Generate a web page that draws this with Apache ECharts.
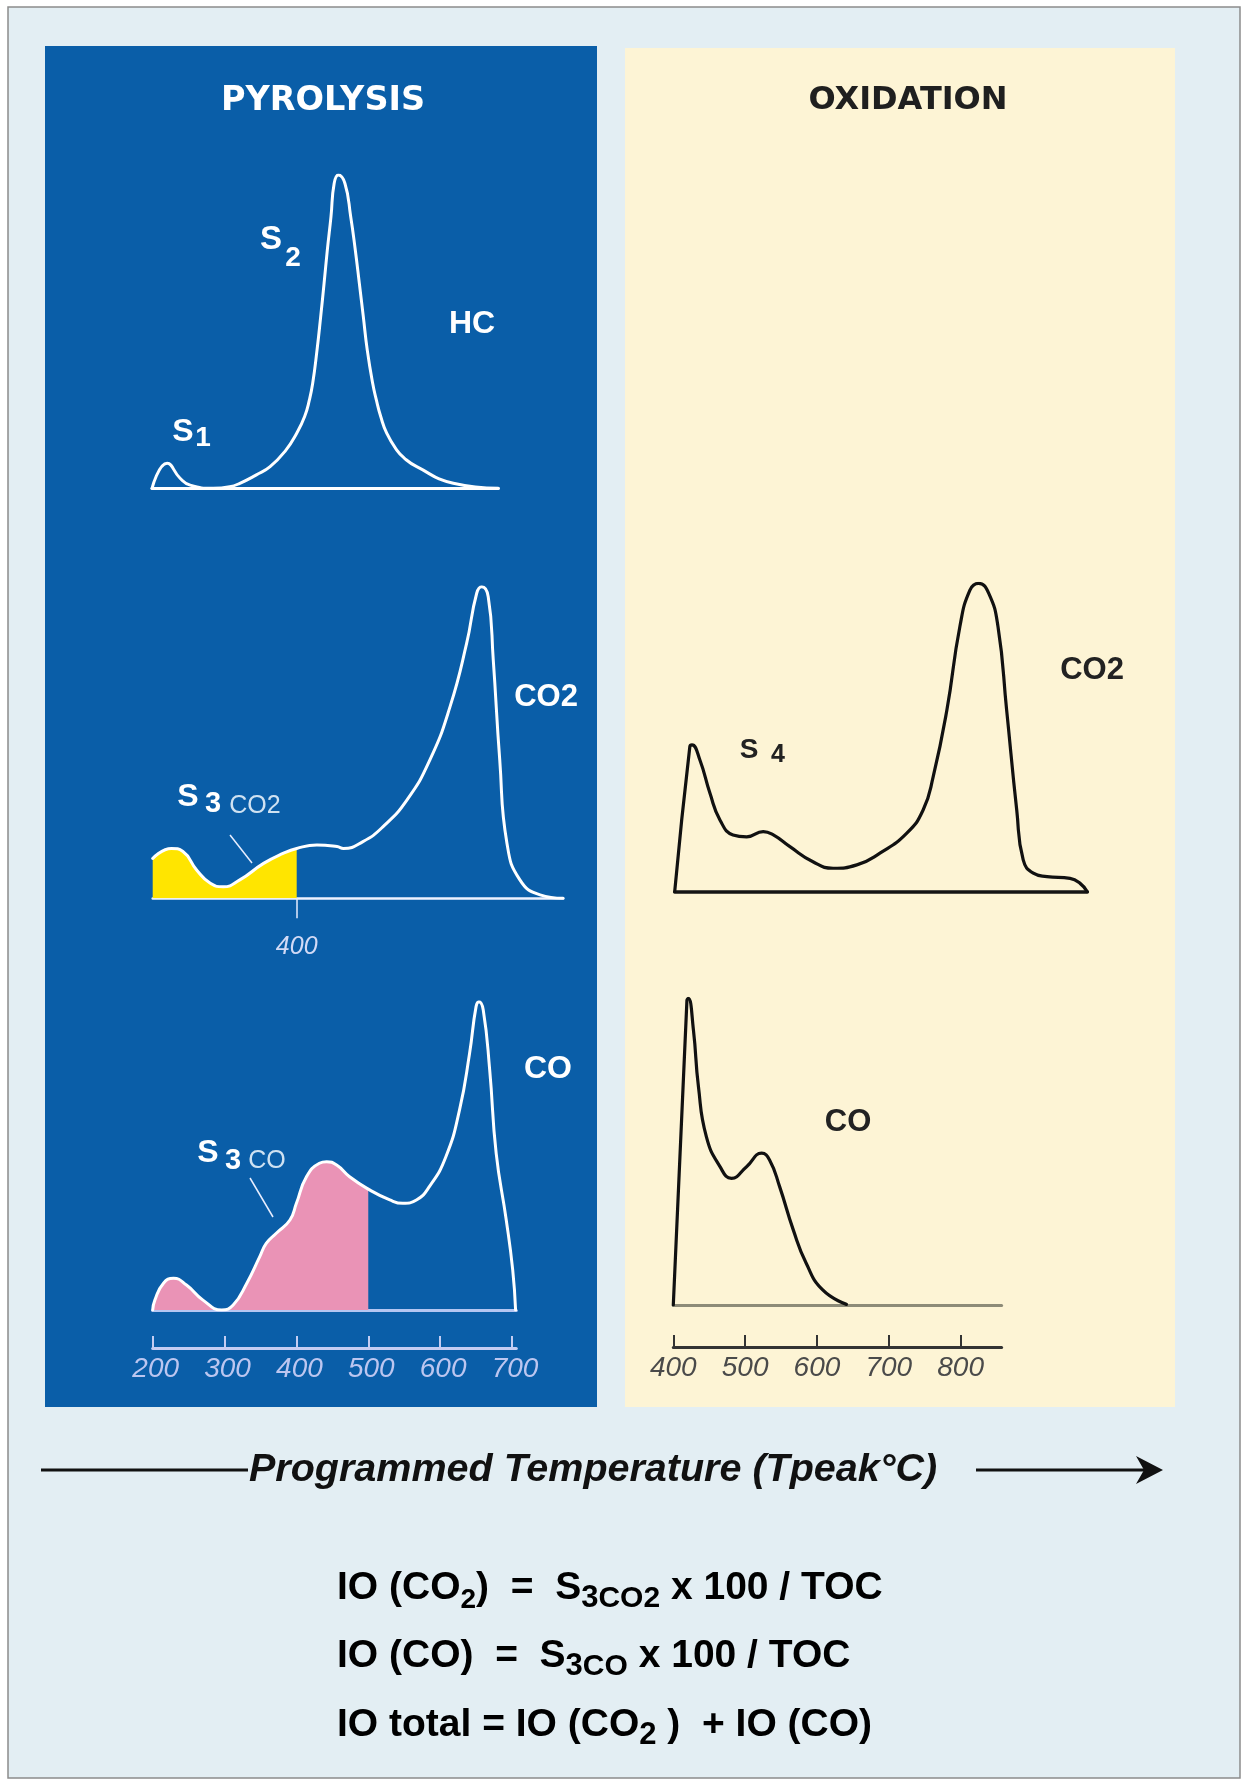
<!DOCTYPE html>
<html>
<head>
<meta charset="utf-8">
<title>Rock-Eval pyrolysis and oxidation</title>
<script src="https://cdn.jsdelivr.net/npm/echarts@6/dist/echarts.min.js"></script>
<style>
  html, body { margin: 0; padding: 0; background: #ffffff; }
  #chart { width: 1249px; height: 1783px; }
</style>
</head>
<body>
<div id="chart"></div>
<script>
// Temperature tick labels (°C)
const pyroTicks = [200, 300, 400, 500, 600, 700];
const oxiTicks = [400, 500, 600, 700, 800];
const s3co2Limit = 400;   // S3 CO2 integrated up to 400 °C
const s3coLimit = 500;    // S3 CO integrated up to 500 °C

// Pyrolysis signals: [temperature °C, relative intensity]
const hcPyro = [[199,0],[220,8],[238,3.2],[252,1],[284,0],[307,0.5],[321,1.6],[344,4.3],[363,6.9],[385,12.2],[400,17.6],[411,22.9],[417.6,28.2],[422.2,33.5],[428.2,44.1],[433.3,54.8],[438,65.4],[442.5,76],[447.6,86.7],[452,97.3],[457.8,100],[467,97.3],[475,86.7],[481.4,76],[487,65.4],[492.5,54.8],[498,44.1],[505.5,33.5],[510.6,28.2],[516.7,22.9],[525,17.6],[539,12.2],[550,9.5],[566.7,6.9],[617.5,1.6],[680,0]];
const co2Pyro = [[200,12.8],[226,16],[242,15],[261,9.1],[280,4.8],[298,3.7],[321,5.9],[354,11.2],[381,14.4],[400,16],[428,17.1],[456,16.6],[465,16],[492,18.2],[520,23],[553,31.5],[585,44.4],[613,61.5],[636,81.8],[650,97.9],[657,100],[666,96.8],[673,76.5],[682,44.4],[692,17.7],[710,5.9],[738,1.1],[770,0]];
const coPyro = [[200,0],[203,3.2],[215,8.7],[229,10.3],[247,8.1],[270,3.2],[296,0],[312,1.6],[331,8.7],[349,17.3],[358,21.6],[372,24.9],[391,29.2],[400,34.6],[414,43.2],[432,47.6],[442,48.1],[456,47],[474,43.2],[500,39.2],[530,35.7],[548,34.6],[567,35.7],[585,40],[608,49.7],[627,64.9],[641,83.3],[650,98.4],[654,100],[660,97.3],[669,77.8],[678,50.8],[692,29.2],[701,13],[705,0]];

// Oxidation signals
const co2Oxi = [[402,0],[423,47],[426,47.6],[437,42.7],[451,31.9],[465,23.2],[483,18.4],[502,17.8],[525,19.5],[539,18.4],[562,14.6],[594,9.7],[622,7.6],[655,8.7],[687,12.5],[724,18.9],[747,26.5],[761,37.3],[780,58.9],[798,85.9],[812,97.8],[824,100],[838,96.8],[851,85.9],[863,58.9],[877,26.5],[886,10.3],[900,6],[919,4.9],[951,4.3],[965,2.7],[975,0]];
const coOxi = [[400,0],[419,99.4],[421,100],[428,89.7],[435,71.2],[446,54.9],[465,45.1],[481,41.3],[502,45.1],[523,49.5],[534,47.3],[548,38.6],[567,24.5],[585,13.6],[608,4.9],[641,0.2]];

const FONT = '"Liberation Sans", Arial, sans-serif';
const WHITE = '#ffffff';
const LAVENDER = '#bcc6f0';
const INK = '#1d1d1d';
const SMOOTH = 0.5;

const chart = echarts.init(document.getElementById('chart'), null, { renderer: 'canvas' });

function hiddenY(i) {
  return { type: 'value', gridIndex: i, min: 0, max: 100, show: false };
}
function baseAxis(grid, min, max, color, width) {
  return {
    type: 'value', gridIndex: grid, min: min, max: max, position: 'bottom',
    axisLine: { show: true, onZero: false, lineStyle: { color: color, width: width } },
    axisTick: { show: false }, axisLabel: { show: false }, splitLine: { show: false }
  };
}
function scaleAxis(grid, min, max, offset, ticks, color, labelColor, shift) {
  return {
    type: 'value', gridIndex: grid, min: min, max: max, position: 'bottom', offset: offset,
    axisLine: { show: true, onZero: false, lineStyle: { color: color, width: 3 } },
    axisTick: { show: true, inside: true, length: 12, customValues: ticks, lineStyle: { color: color, width: 2 } },
    axisLabel: { show: true, customValues: ticks, margin: 7, color: labelColor, fontFamily: FONT,
                 fontStyle: 'italic', fontSize: 28, padding: [0, 0, 0, shift] },
    splitLine: { show: false }
  };
}
const yIndexOf = { 0: 0, 1: 1, 2: 2, 4: 3, 5: 4 };
function curve(xi, data, color, width) {
  return {
    type: 'line', xAxisIndex: xi, yAxisIndex: yIndexOf[xi], data: data,
    smooth: SMOOTH, showSymbol: false, symbol: 'none',
    lineStyle: { color: color, width: width, cap: 'round', join: 'round' }, z: 4
  };
}
function fill(xi, data, color) {
  return {
    type: 'line', xAxisIndex: xi, yAxisIndex: yIndexOf[xi], data: data,
    smooth: SMOOTH, showSymbol: false, symbol: 'none',
    lineStyle: { width: 0 }, areaStyle: { color: color, opacity: 1 }, z: 3
  };
}

const co2Area = co2Pyro.filter(p => p[0] <= s3co2Limit);
const coArea = coPyro.filter(p => p[0] <= s3coLimit);

function txt(x, y, s, size, color, weight, family, align) {
  return {
    type: 'text', z: 20,
    style: { x: x, y: y, text: s, fill: color, fontSize: size, fontWeight: weight || 'bold',
             fontFamily: family || FONT, textAlign: align || 'center', align: align || 'center',
             textVerticalAlign: 'middle', verticalAlign: 'middle' }
  };
}

const formulaRich = {
  m: { fontSize: 39, fontWeight: 'bold', fontFamily: FONT, color: INK, lineHeight: 52 },
  s: { fontSize: 28, fontWeight: 'bold', fontFamily: FONT, color: INK, lineHeight: 28, verticalAlign: 'bottom' },
  n: { fontSize: 31, fontWeight: 'bold', fontFamily: FONT, color: INK, lineHeight: 30, verticalAlign: 'bottom' },
  p: { fontSize: 30, fontWeight: 'bold', fontFamily: FONT, color: '#7a2c7c', lineHeight: 30, verticalAlign: 'bottom' },
  s2: { fontSize: 31, fontWeight: 'bold', fontFamily: FONT, color: INK, lineHeight: 24, verticalAlign: 'bottom' }
};
function formula(y, s) {
  return {
    type: 'text', z: 20,
    style: { x: 337, y: y, text: s, rich: formulaRich, textAlign: 'left', align: 'left',
             textVerticalAlign: 'middle', verticalAlign: 'middle' }
  };
}

const option = {
  animation: false,
  backgroundColor: '#ffffff',
  grid: [
    { left: 152, top: 175, width: 346.3, height: 313.3, outerBoundsMode: 'none' },
    { left: 152.7, top: 586.7, width: 410.4, height: 311.6, outerBoundsMode: 'none' },
    { left: 152.7, top: 1001.7, width: 363.6, height: 308.3, outerBoundsMode: 'none' },
    { left: 674.7, top: 583.3, width: 412.6, height: 308.4, outerBoundsMode: 'none' },
    { left: 673.3, top: 998.3, width: 328.3, height: 306.7, outerBoundsMode: 'none' }
  ],
  xAxis: [
    baseAxis(0, 199, 680, WHITE, 3),
    Object.assign(baseAxis(1, 200, 770, '#eef2ff', 2.5), {
      axisTick: { show: true, inside: false, length: 20, customValues: [s3co2Limit],
                  lineStyle: { color: '#e6ecff', width: 1.5 } },
      axisLabel: { show: true, customValues: [s3co2Limit], margin: 36, color: '#d2daf6',
                   fontFamily: FONT, fontStyle: 'italic', fontSize: 25 }
    }),
    baseAxis(2, 200, 706, '#b4c6f2', 3),
    scaleAxis(2, 200, 706, 38, pyroTicks, '#c4cdf3', LAVENDER, 6),
    baseAxis(3, 402, 975, '#151515', 3.5),
    baseAxis(4, 400, 857, '#8d8b78', 3),
    scaleAxis(4, 400, 857, 42, oxiTicks, '#333333', '#4a4a4a', 0)
  ],
  yAxis: [hiddenY(0), hiddenY(1), hiddenY(2), hiddenY(3), hiddenY(4)],
  series: [
    curve(0, hcPyro, WHITE, 3),
    fill(1, co2Area, '#ffe500'),
    curve(1, co2Pyro, WHITE, 3),
    fill(2, coArea, '#ea93b6'),
    curve(2, coPyro, WHITE, 3),
    curve(4, co2Oxi, '#111111', 3.2),
    curve(5, coOxi, '#111111', 3.2)
  ],
  graphic: [
    // page frame and panels
    { type: 'rect', z: -10, shape: { x: 8, y: 7, width: 1232, height: 1771 },
      style: { fill: '#e3eef3', stroke: '#8c8c8c', lineWidth: 1.5 } },
    { type: 'rect', z: -9, shape: { x: 45, y: 46, width: 552, height: 1361 }, style: { fill: '#0a5ea8' } },
    { type: 'rect', z: -9, shape: { x: 625, y: 48, width: 550, height: 1359 }, style: { fill: '#fdf4d5' } },

    // panel titles
    txt(323, 101, 'PYROLYSIS', 33.5, WHITE, 'bold', '"DejaVu Sans", sans-serif'),
    txt(908, 101, 'OXIDATION', 32, '#1f1f1f', 'bold', '"DejaVu Sans", sans-serif'),

    // pyrolysis peak labels
    txt(271, 240, 'S', 33, WHITE),
    txt(293, 258, '2', 28, WHITE),
    txt(472, 324, 'HC', 32, WHITE),
    txt(183, 432, 'S', 32, WHITE),
    txt(203, 438, '1', 28, WHITE),
    txt(546, 697, 'CO2', 31, WHITE),
    txt(188, 797, 'S', 32, WHITE),
    txt(213, 804, '3', 29, WHITE),
    txt(255, 806, 'CO2', 25, '#cfe2f2', 'normal'),
    txt(548, 1069, 'CO', 32, WHITE),
    txt(208, 1153, 'S', 32, WHITE),
    txt(233, 1161, '3', 29, WHITE),
    txt(267, 1161, 'CO', 25, '#cfe2f2', 'normal'),
    { type: 'line', z: 20, shape: { x1: 230, y1: 835, x2: 252, y2: 863 }, style: { stroke: '#e8eeff', lineWidth: 1.5 } },
    { type: 'line', z: 20, shape: { x1: 250, y1: 1178, x2: 273, y2: 1217 }, style: { stroke: '#e8eeff', lineWidth: 1.5 } },

    // oxidation peak labels
    txt(749, 750, 'S', 28, '#222222'),
    txt(778, 755, '4', 25, '#222222'),
    txt(1092, 670, 'CO2', 31, '#222222'),
    txt(848, 1122, 'CO', 31, '#222222'),

    // temperature arrow
    { type: 'line', z: 20, shape: { x1: 41, y1: 1470, x2: 248, y2: 1470 }, style: { stroke: '#111111', lineWidth: 3 } },
    { type: 'text', z: 20, style: { x: 249, y: 1470, text: 'Programmed Temperature (Tpeak°C)', fill: '#111111',
        fontSize: 39.5, fontWeight: 'bold', fontStyle: 'italic', fontFamily: FONT,
        textAlign: 'left', align: 'left', textVerticalAlign: 'middle', verticalAlign: 'middle' } },
    { type: 'line', z: 20, shape: { x1: 976, y1: 1470, x2: 1150, y2: 1470 }, style: { stroke: '#111111', lineWidth: 3 } },
    { type: 'polygon', z: 20, shape: { points: [[1136, 1456], [1163, 1470], [1136, 1484], [1144, 1470]] },
      style: { fill: '#111111' } },

    // oxygen index formulas
    formula(1588, '{m|IO (CO}{s|2}{m|)  =  S}{n|3}{p|CO2}{m| x 100 / TOC}'),
    formula(1656, '{m|IO (CO)  =  S}{n|3}{p|CO}{m| x 100 / TOC}'),
    formula(1725, '{m|IO total = IO (CO}{s2|2}{m| )  + IO (CO)}')
  ]
};

chart.setOption(option);
</script>
</body>
</html>
